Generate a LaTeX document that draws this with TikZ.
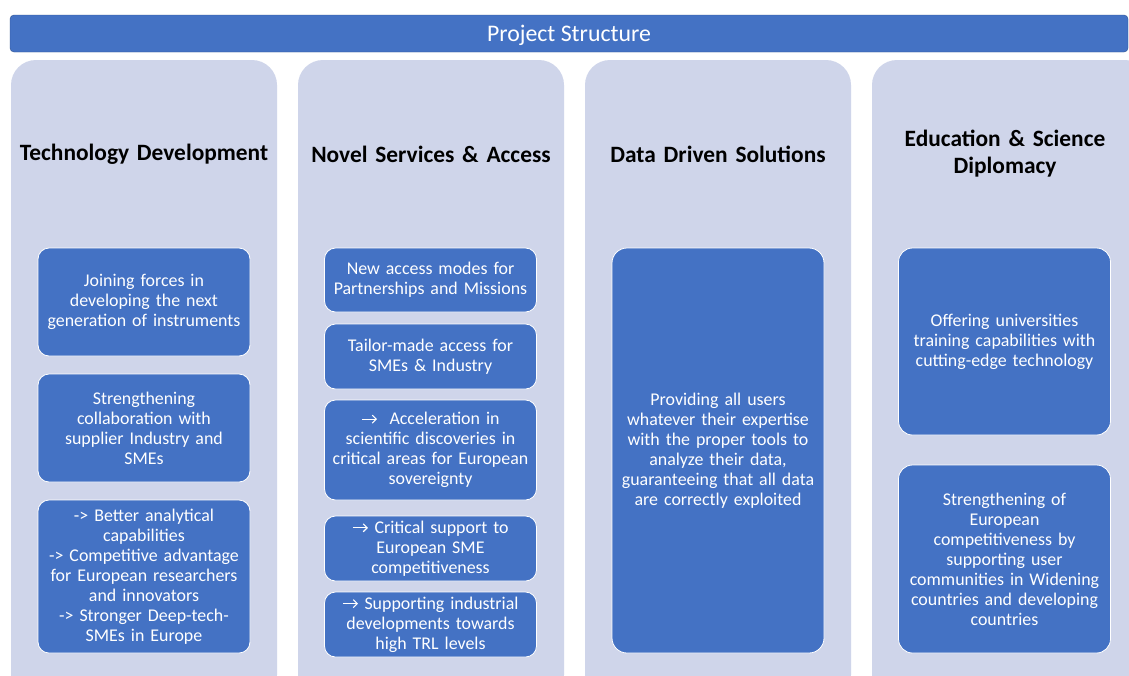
\documentclass[tikz,border=0pt]{standalone}
\usepackage{fontspec}
\setmainfont{Carlito}
\usetikzlibrary{arrows.meta}
\newcommand{\toarr}{\tikz[baseline=-5.5pt]\draw[white, line width=1.1pt, -{Straight Barb[length=4pt, width=8pt]}] (0pt,0pt) -- (15pt,0pt);}
\definecolor{barblue}{HTML}{4472C4}
\definecolor{barline}{HTML}{2F528F}
\definecolor{colfill}{HTML}{CFD5EA}

\begin{document}
\begin{tikzpicture}[x=1pt, y=-1pt,
  column/.style={fill=colfill, rounded corners=25pt},
  heading/.style={font=\bfseries\fontsize{23.4}{27}\selectfont, align=center, text width=264pt, inner sep=0pt},
  itembox/.style={draw=white, line width=0.8pt, fill=barblue, rounded corners=11pt, text=white,
    align=center, inner sep=0pt, font=\fontsize{17.9}{20}\selectfont},
  wide/.style={itembox, minimum width=212pt, text width=210pt},
]
\useasboundingbox (0,0) rectangle (1129,675);
\clip (0,0) rectangle (1129,675);
\fill[white] (0,0) rectangle (1129,675);

% title bar
\node[draw=barline, fill=barblue, rounded corners=4pt, minimum width=1118pt, minimum height=37pt,
  inner sep=0pt, text=white, font=\fontsize{23.8}{26}\selectfont] (title) at (569,33.5) {};
\node[text=white, font=\fontsize{23.8}{26}\selectfont, inner sep=0pt] (titletext) at (569,35.5) {Project Structure};

% columns
\fill[column] (11,60) rectangle (277,700);
\fill[column] (298,60) rectangle (564,700);
\fill[column] (585,60) rectangle (851,700);
\fill[column] (872,60) rectangle (1150,700);

% headings
\node[heading] (h1) at (144,154.5) {Technology Development};
\node[heading] (h2) at (431,154) {Novel Services \& Access};
\node[heading] (h3) at (718,154) {Data Driven Solutions};
\node[heading, text width=230pt] (h4) at (1005,154) {Education \& Science\\Diplomacy};

% technology development
\node[wide, minimum height=108pt] (t1) at (144,302) {Joining forces in\\developing the next\\generation of instruments};
\node[wide, minimum height=108pt] (t2) at (144,428) {Strengthening\\collaboration with\\supplier Industry and\\SMEs};
\node[wide, minimum height=153pt] (t3) at (144,576.5) {-> Better analytical\\capabilities\\-> Competitive advantage\\for European researchers\\and innovators\\-> Stronger Deep-tech-\\SMEs in Europe};

% novel services
\node[wide, minimum height=64pt] (s1) at (430.5,280) {New access modes for\\Partnerships and Missions};
\node[wide, minimum height=65pt] (s2) at (430.5,356.5) {Tailor-made access for\\SMEs \& Industry};
\node[wide, minimum height=100pt] (s3) at (430.5,450) {\toarr{}\ \ Acceleration in\\scientific discoveries in\\critical areas for European\\sovereignty};
\node[wide, minimum height=65pt] (s4) at (430.5,548.5) {\toarr{} Critical support to\\European SME\\competitiveness};
\node[wide, minimum height=65pt] (s5) at (430.5,624.5) {\toarr{} Supporting industrial\\developments towards\\high TRL levels};

% data driven
\node[wide, rounded corners=15pt, minimum height=405pt] (d1) at (718,450.5) {Providing all users\\whatever their expertise\\with the proper tools to\\analyze their data,\\guaranteeing that all data\\are correctly exploited};

% education
\node[wide, rounded corners=14pt, minimum height=187pt] (e1) at (1004.5,341.5) {Offering universities\\training capabilities with\\cutting-edge technology};
\node[wide, rounded corners=14pt, minimum height=188pt] (e2) at (1004.5,559) {Strengthening of\\European\\competitiveness by\\supporting user\\communities in Widening\\countries and developing\\countries};
\end{tikzpicture}
\end{document}
